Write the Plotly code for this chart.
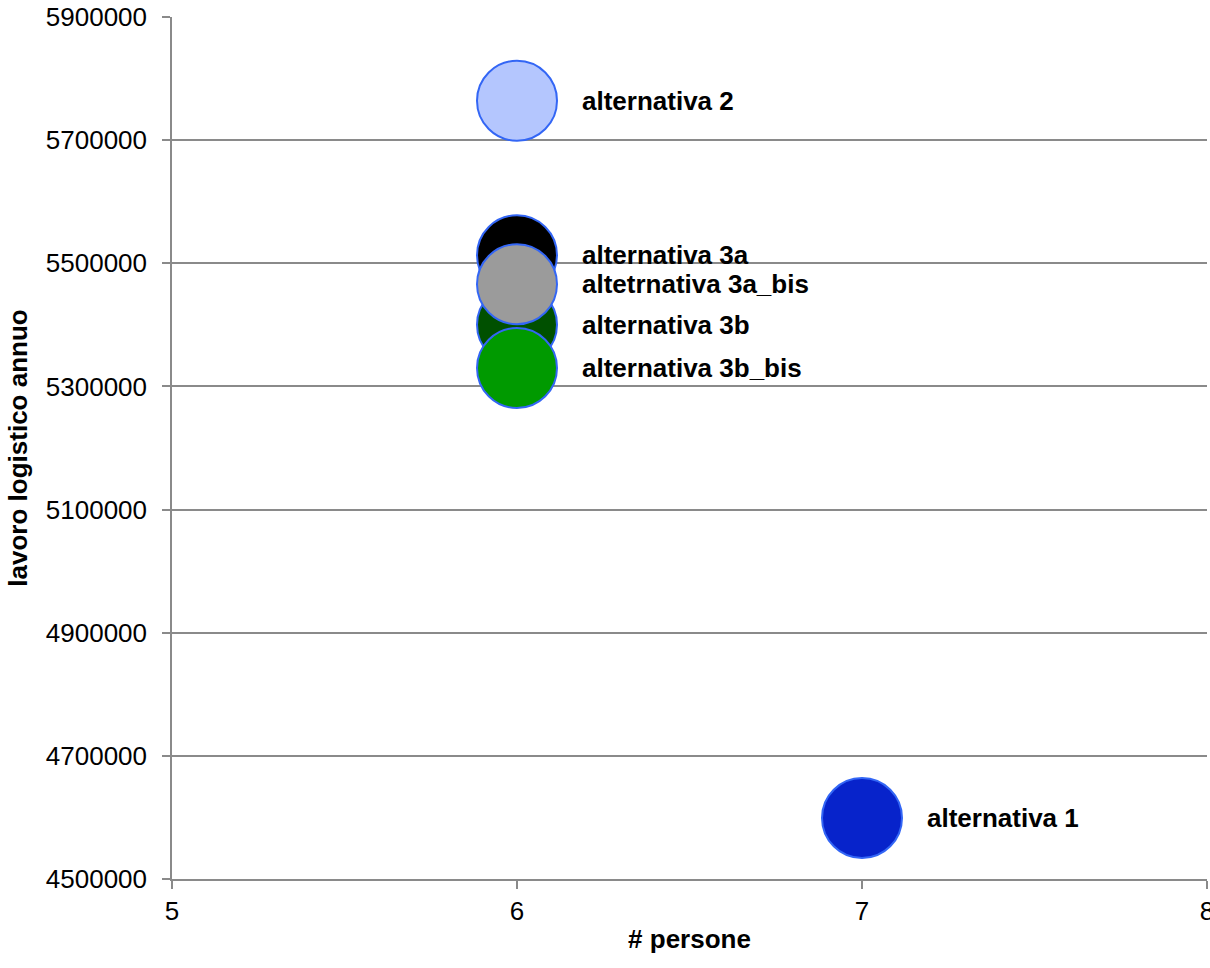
import plotly.graph_objects as go

# Alternatives (drawn in this order so overlapping bubbles stack correctly)
labels = ["alternativa 1", "alternativa 2", "alternativa 3a", "alternativa 3b",
          "altetrnativa 3a_bis", "alternativa 3b_bis"]
persone = [7, 6, 6, 6, 6, 6]
lavoro = [4599000, 5764000, 5513000, 5400000, 5466000, 5330000]
colors = ["#0723CB", "#B4C6FE", "#000000", "#005000", "#9B9B9B", "#009A00"]

y_ticks = [4500000, 4700000, 4900000, 5100000, 5300000, 5500000, 5700000, 5900000]
x_ticks = [5, 6, 7, 8]

FONT = "Arial, Liberation Sans, sans-serif"
GRID = "#8A8A8A"

fig = go.Figure()
fig.add_trace(go.Scatter(
    x=persone, y=lavoro, mode="markers",
    marker=dict(size=80, color=colors, opacity=1,
                line=dict(color="#3366F5", width=2)),
    hoverinfo="skip", showlegend=False,
))

for lab, xv, yv in zip(labels, persone, lavoro):
    fig.add_annotation(x=xv, y=yv, text=f"<b>{lab}</b>", showarrow=False,
                       xanchor="left", yanchor="middle", xshift=63,
                       font=dict(family=FONT, size=26, color="#000000"))

fig.update_layout(
    template="none",
    width=1210, height=968,
    margin=dict(l=172, r=3, t=17, b=89),
    paper_bgcolor="white", plot_bgcolor="white",
    font=dict(family=FONT, size=26, color="#000000"),
    showlegend=False,
    xaxis=dict(
        range=[5, 8], tickvals=x_ticks, ticktext=[str(v) for v in x_ticks],
        showgrid=False, zeroline=False, showline=True, linecolor=GRID,
        linewidth=1.5, ticks="outside", ticklen=8, tickcolor=GRID, tickwidth=1.5,
        tickfont=dict(family=FONT, size=26), automargin=False,
        ticklabeloverflow="allow",
        title=dict(text="<b># persone</b>", font=dict(family=FONT, size=26),
                   standoff=5),
    ),
    yaxis=dict(
        range=[4500000, 5900000], tickvals=y_ticks,
        ticktext=[str(v) for v in y_ticks],
        showgrid=True, gridcolor=GRID, gridwidth=1.5, zeroline=False,
        showline=True, linecolor=GRID, linewidth=1.5,
        ticks="outside", ticklen=8, tickcolor=GRID, tickwidth=1.5,
        tickfont=dict(family=FONT, size=26), automargin=False,
        ticklabelstandoff=10,
        title=dict(text="<b>lavoro logistico annuo</b>",
                   font=dict(family=FONT, size=26), standoff=11),
    ),
)

fig.write_html("out.html")
